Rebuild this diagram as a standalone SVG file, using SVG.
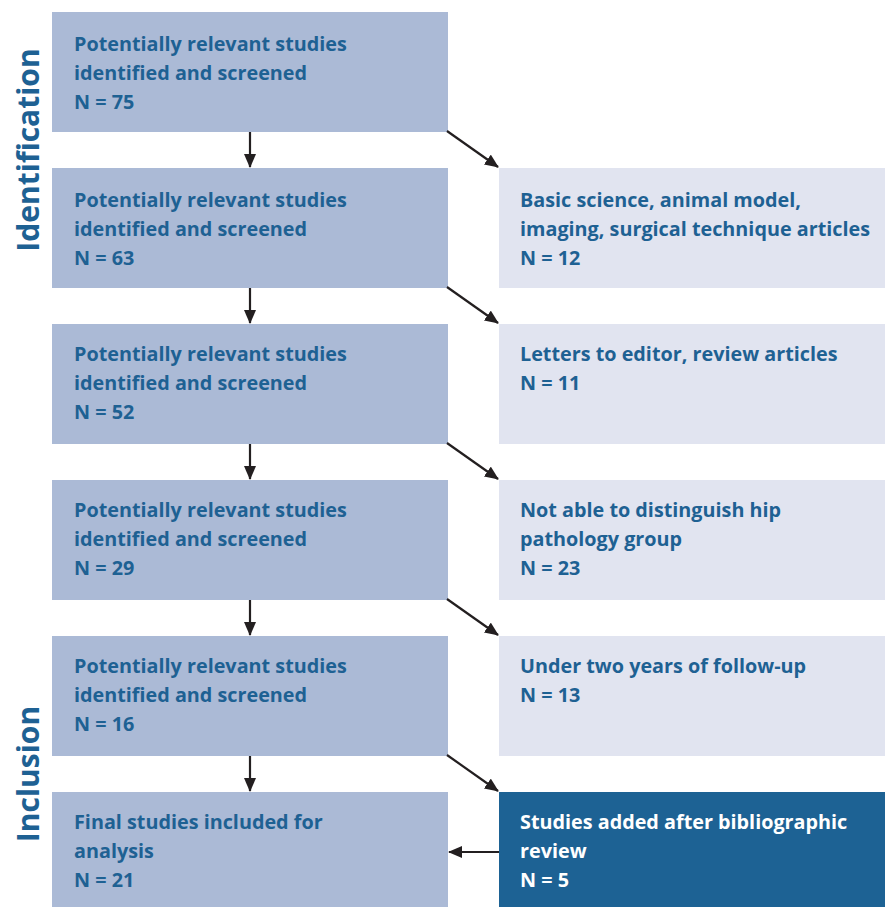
<svg xmlns="http://www.w3.org/2000/svg" width="885" height="907" viewBox="0 0 885 907">
<style>
.l{fill:#abbad6}
.r{fill:#e1e4f0}
.d{fill:#1d6294}
text{font-family:"Open Sans","Noto Sans","Liberation Sans",sans-serif;font-weight:700;font-size:19.8px;fill:#1e6193}
.w{fill:#ffffff}
.side{font-size:30px}
.c{stroke:#231f20;stroke-width:2.2;fill:none;marker-end:url(#ah)}
</style>
<defs>
<marker id="ah" markerWidth="14" markerHeight="12" refX="13" refY="6" orient="auto" markerUnits="userSpaceOnUse" viewBox="0 0 14 12">
<path d="M0,0 L14,6 L0,12 Z" fill="#231f20"/>
</marker>
</defs>
<text class="side" transform="translate(39,150) rotate(-90)" text-anchor="middle">Identification</text>
<text class="side" transform="translate(39,774) rotate(-90)" text-anchor="middle">Inclusion</text>
<g id="n1"><rect class="l" x="52" y="12" width="396" height="120"/><text x="74" y="51">Potentially relevant studies</text><text x="74" y="80">identified and screened</text><text x="74" y="109">N = 75</text></g>
<g id="n2"><rect class="l" x="52" y="168" width="396" height="120"/><text x="74" y="207">Potentially relevant studies</text><text x="74" y="236">identified and screened</text><text x="74" y="265">N = 63</text></g>
<g id="n3"><rect class="l" x="52" y="324" width="396" height="120"/><text x="74" y="361">Potentially relevant studies</text><text x="74" y="390">identified and screened</text><text x="74" y="419">N = 52</text></g>
<g id="n4"><rect class="l" x="52" y="480" width="396" height="120"/><text x="74" y="517">Potentially relevant studies</text><text x="74" y="546">identified and screened</text><text x="74" y="575">N = 29</text></g>
<g id="n5"><rect class="l" x="52" y="636" width="396" height="120"/><text x="74" y="673">Potentially relevant studies</text><text x="74" y="702">identified and screened</text><text x="74" y="731">N = 16</text></g>
<g id="n6"><rect class="l" x="52" y="792" width="396" height="115"/><text x="74" y="829">Final studies included for</text><text x="74" y="858">analysis</text><text x="74" y="887">N = 21</text></g>
<g id="e1"><rect class="r" x="499" y="168" width="386" height="120"/><text x="520" y="207">Basic science, animal model,</text><text x="520" y="236">imaging, surgical technique articles</text><text x="520" y="265">N = 12</text></g>
<g id="e2"><rect class="r" x="499" y="324" width="386" height="120"/><text x="520" y="361">Letters to editor, review articles</text><text x="520" y="390">N = 11</text></g>
<g id="e3"><rect class="r" x="499" y="480" width="386" height="120"/><text x="520" y="517">Not able to distinguish hip</text><text x="520" y="546">pathology group</text><text x="520" y="575">N = 23</text></g>
<g id="e4"><rect class="r" x="499" y="636" width="386" height="120"/><text x="520" y="673">Under two years of follow-up</text><text x="520" y="702">N = 13</text></g>
<g id="a1"><rect class="d" x="499" y="792" width="386" height="115"/><text class="w" x="520" y="829">Studies added after bibliographic</text><text class="w" x="520" y="858">review</text><text class="w" x="520" y="887">N = 5</text></g>
<g id="connectors">
<line class="c" x1="250" y1="132" x2="250" y2="167"/>
<line class="c" x1="250" y1="288" x2="250" y2="323"/>
<line class="c" x1="250" y1="444" x2="250" y2="479"/>
<line class="c" x1="250" y1="600" x2="250" y2="635"/>
<line class="c" x1="250" y1="756" x2="250" y2="791"/>
<line class="c" x1="447" y1="131" x2="498" y2="167"/>
<line class="c" x1="447" y1="287" x2="498" y2="323"/>
<line class="c" x1="447" y1="443" x2="498" y2="479"/>
<line class="c" x1="447" y1="599" x2="498" y2="635"/>
<line class="c" x1="447" y1="755" x2="498" y2="791"/>
<line class="c" x1="499" y1="852" x2="449" y2="852"/>
</g>
</svg>
